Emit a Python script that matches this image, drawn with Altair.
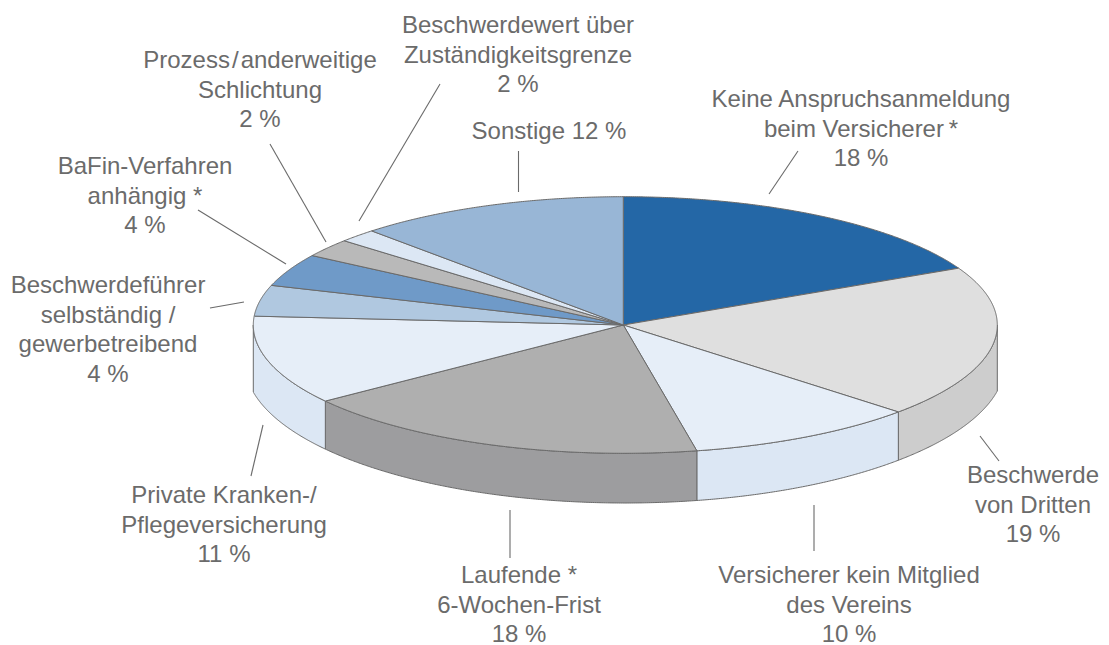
import math
import altair as alt

# Shares (percent, clockwise from 12 o'clock)
categories = ["Keine Anspruchsanmeldung", "Beschwerde von Dritten", "Versicherer kein Mitglied",
              "Laufende 6-Wochen-Frist", "Private Kranken-/Pflegeversicherung",
              "Beschwerdeführer selbständig", "BaFin-Verfahren anhängig",
              "Prozess/Schlichtung", "Beschwerdewert", "Sonstige"]
shares = [17.7, 19.15, 10.0, 18.05, 11.2, 3.9, 4.1, 2.3, 1.7, 11.9]
top_colors = ["#2467a6", "#dfdfdf", "#e6eef8", "#afafaf", "#e6eef8",
              "#b0c8e0", "#6f9ac8", "#b9b9b9", "#dce7f4", "#98b6d6"]
wall_colors = ["#2467a6", "#cdcdcd", "#dce7f4", "#9d9d9f", "#dce7f4",
               "#b0c8e0", "#6f9ac8", "#b9b9b9", "#dce7f4", "#98b6d6"]

label_texts = [
    "Keine Anspruchsanmeldung\nbeim Versicherer\u2009*\n18 %",
    "Beschwerde\nvon Dritten\n19 %",
    "Versicherer kein Mitglied\ndes Vereins\n10 %",
    "Laufende *\n6-Wochen-Frist\n18 %",
    "Private Kranken-/\nPflegeversicherung\n11 %",
    "Beschwerdeführer\nselbständig /\ngewerbetreibend\n4 %",
    "BaFin-Verfahren\nanhängig *\n4 %",
    "Prozess\u200a/\u200aanderweitige\nSchlichtung\n2 %",
    "Beschwerdewert über\nZuständigkeitsgrenze\n2 %",
    "Sonstige 12 %",
]
# Layout, in page pixels
label_x = [861, 1033, 849, 519, 224, 108, 145, 260, 518, 549]
label_y = [88, 464, 564, 564, 484, 274, 155, 49, 14, 120]
leaders = [
    (769, 194, 798, 151), (980, 436, 999, 461), (814, 505, 814, 551), (510, 510, 510, 558),
    (263, 425, 251, 476), (244, 302, 210, 308), (286, 264, 198, 210), (326, 242, 270, 144),
    (359, 221, 440, 84), (518.5, 192, 518.5, 151),
]

OFF = 8
CX, CY, RX_L, RX_R, RY = 623.3, 325.0, 370.0, 374.0, 128.3
BCX, BCY, BRX, BRY = 625.0, 363.0, 380.0, 140.0


def top_pt(t):
    s = math.sin(t)
    return (CX + (RX_R if s >= 0 else RX_L) * s, CY - RY * math.cos(t))


def bottom_y(x):
    return BCY + BRY * math.sqrt(max(0.0, 1 - ((x - BCX) / BRX) ** 2))


def arc(a, b):
    n = max(2, int(abs(b - a) / 0.005))
    return [top_pt(a + (b - a) * i / n) for i in range(n + 1)]


def shift(pts):
    return [[x - OFF, y - OFF] for x, y in pts]


total = sum(shares)
walls, tops = [], []
cum = 0.0
for name, v, tc, wc in zip(categories, shares, top_colors, wall_colors):
    a = cum / total * 2 * math.pi
    b = (cum + v) / total * 2 * math.pi
    cum += v
    poly = [(CX, CY)] + arc(a, b) + [(CX, CY)]
    tops.append({"type": "Feature", "properties": {"name": name, "c": tc},
                 "geometry": {"type": "Polygon", "coordinates": [shift(poly)]}})
    wa, wb = max(a, math.pi / 2), min(b, 3 * math.pi / 2)
    if wb > wa:
        upper = arc(wa, wb)
        lower = [(x, bottom_y(x)) for x, _ in reversed(upper)]
        ring = upper + lower + [upper[0]]
        walls.append({"type": "Feature", "properties": {"name": name, "c": wc},
                      "geometry": {"type": "Polygon", "coordinates": [shift(ring)]}})

projection = alt.Projection(type="identity", scale=1, translate=[0, 0])


def faces(features):
    return alt.Chart(alt.Data(values=features)).mark_geoshape(
        stroke="#6a6a6a", strokeWidth=1.0, strokeJoin="round"
    ).encode(fill=alt.Color("properties.c:N", scale=None)).project(**projection.to_dict())


wall_layer = faces(walls)
top_layer = faces(tops)

leader_rows = [{"x": a - OFF, "y": b - OFF, "x2": c - OFF, "y2": d - OFF} for a, b, c, d in leaders]
leader_layer = alt.Chart(alt.Data(values=leader_rows)).mark_rule(color="#6a6a6a", strokeWidth=1.1).encode(
    x=alt.X("x:Q", scale=None, axis=None), y=alt.Y("y:Q", scale=None, axis=None),
    x2="x2:Q", y2="y2:Q")

label_rows = [{"t": t, "x": x - OFF, "y": y - OFF} for t, x, y in zip(label_texts, label_x, label_y)]
label_layer = alt.Chart(alt.Data(values=label_rows)).mark_text(
    font="Liberation Sans", fontSize=24, color="#6b6b6b", align="center", baseline="top",
    lineBreak="\n", lineHeight=29.5
).encode(x=alt.X("x:Q", scale=None, axis=None), y=alt.Y("y:Q", scale=None, axis=None), text="t:N")

chart = alt.layer(wall_layer, top_layer, leader_layer, label_layer).properties(
    width=1093, height=645, padding=0, autosize=alt.AutoSizeParams(type="none")
).configure_view(stroke=None)

chart.save("out.html", embed_options={"renderer": "svg", "actions": False})
